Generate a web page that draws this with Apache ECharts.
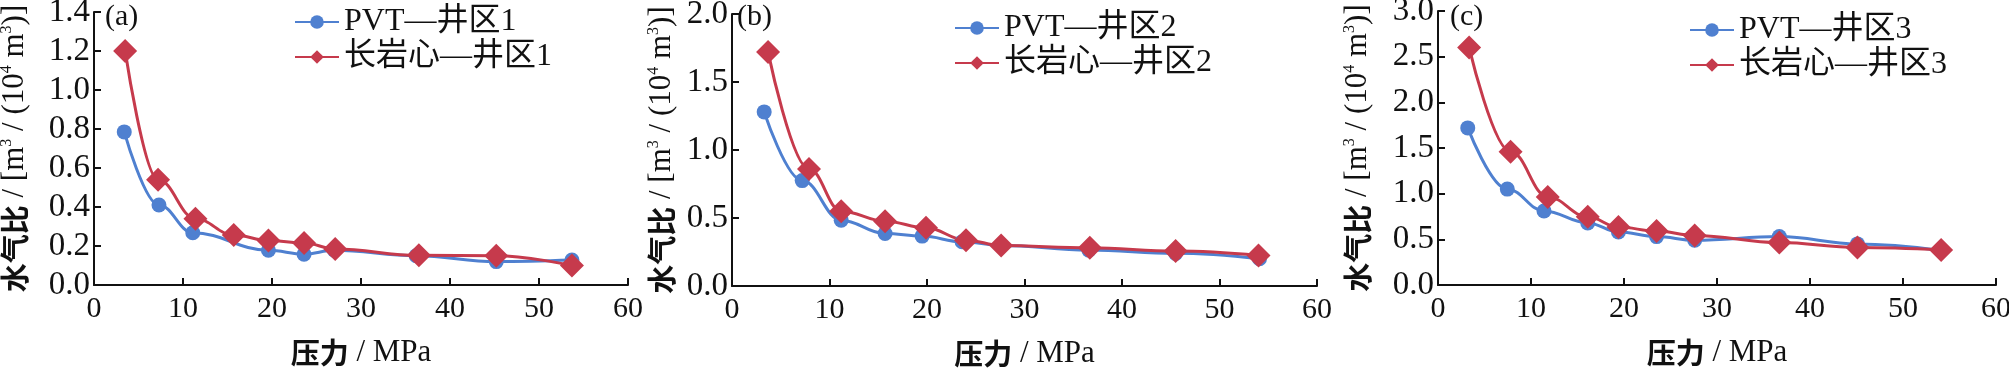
<!DOCTYPE html>
<html><head><meta charset="utf-8">
<script src="https://cdn.jsdelivr.net/npm/echarts@6/dist/echarts.min.js"></script>
<style>html,body{margin:0;padding:0;background:#fff}#c{width:2009px;height:368px}</style>
</head><body><div id="c"></div>
<script>
// Panel (a)
const pvtX1 = [3.4, 7.3, 11.1, 19.6, 23.6, 27.0, 36.2, 45.2, 53.7];
const pvtY1 = [0.785, 0.41, 0.268, 0.178, 0.158, 0.178, 0.15, 0.12, 0.128];
const coreX1 = [3.5, 7.2, 11.4, 15.7, 19.6, 23.6, 27.1, 36.5, 45.2, 53.7];
const coreY1 = [1.2, 0.54, 0.34, 0.256, 0.228, 0.215, 0.185, 0.152, 0.15, 0.1];
// Panel (b)
const pvtX2 = [3.3, 7.2, 11.2, 15.7, 19.5, 23.6, 27.6, 36.6, 45.5, 54.1];
const pvtY2 = [1.28, 0.775, 0.484, 0.386, 0.367, 0.325, 0.298, 0.264, 0.24, 0.2];
const coreX2 = [3.7, 7.9, 11.2, 15.7, 19.9, 24.0, 27.6, 36.7, 45.5, 54.0];
const coreY2 = [1.72, 0.86, 0.55, 0.477, 0.428, 0.337, 0.298, 0.281, 0.257, 0.225];
// Panel (c)
const pvtX3 = [3.2, 7.45, 11.4, 16.1, 19.4, 23.5, 27.6, 36.7, 45.1, 54.1];
const pvtY3 = [1.72, 1.05, 0.81, 0.68, 0.58, 0.53, 0.49, 0.53, 0.45, 0.38];
const coreX3 = [3.35, 7.8, 11.8, 16.1, 19.4, 23.5, 27.6, 36.7, 45.1, 54.1];
const coreY3 = [2.6, 1.46, 0.964, 0.746, 0.634, 0.59, 0.543, 0.464, 0.41, 0.384];

const seriesNames = [
  ['PVT—井区1', '长岩心—井区1'],
  ['PVT—井区2', '长岩心—井区2'],
  ['PVT—井区3', '长岩心—井区3']
];
const panelLabels = ['(a)', '(b)', '(c)'];
const yMax = [1.4, 2.0, 3.0];
const yInterval = [0.2, 0.5, 0.5];

const BLUE = '#4f80d0', RED = '#c63a4c';
const SERIF = '"Liberation Serif", "Times New Roman", "Noto Sans CJK SC", serif';

const grids = [
  {left: 94, width: 534, top: 12, height: 273, outerBoundsMode: 'none'},
  {left: 732, width: 585, top: 14, height: 272, outerBoundsMode: 'none'},
  {left: 1438, width: 558, top: 11, height: 274, outerBoundsMode: 'none'}
];
const yNameGap = [64, 55, 65];
const legendPos = [
  {left: 289, top: 1},
  {left: 949, top: 7},
  {left: 1684, top: 9}
];
const labelPos = [[105, 2], [737, 2], [1450, 2]];

const pvt = [[pvtX1, pvtY1], [pvtX2, pvtY2], [pvtX3, pvtY3]];
const core = [[coreX1, coreY1], [coreX2, coreY2], [coreX3, coreY3]];
const zip = (xs, ys) => xs.map((x, i) => [x, ys[i]]);

const axisLine = {show: true, lineStyle: {color: '#111', width: 2}};
const yName = '{cn|水气比} / [m{sup|3} / (10{sup|4} m{sup|3})]';

const option = {
  animation: false,
  backgroundColor: '#fff',
  grid: grids,
  xAxis: grids.map((g, i) => ({
    gridIndex: i, type: 'value', min: 0, max: 60, interval: 10,
    axisLine, axisTick: {inside: true, length: 7, lineStyle: {color: '#111', width: 2}},
    splitLine: {show: false},
    axisLabel: {fontSize: 30, fontFamily: SERIF, color: '#111', margin: 9},
    name: '{cn|压力} / MPa', nameLocation: 'middle', nameGap: 52,
    nameTextStyle: {fontSize: 31, fontFamily: SERIF, color: '#111',
      rich: {cn: {fontSize: 29, fontWeight: 'bold', fontFamily: '"Noto Sans CJK SC"', color: '#111'}}}
  })),
  yAxis: grids.map((g, i) => ({
    gridIndex: i, type: 'value', min: 0, max: yMax[i], interval: yInterval[i],
    axisLine, axisTick: {inside: true, length: 7, lineStyle: {color: '#111', width: 2}},
    splitLine: {show: false},
    axisLabel: {fontSize: 33, fontFamily: SERIF, color: '#111', margin: 4,
      formatter: v => v.toFixed(1)},
    name: yName, nameLocation: 'middle', nameGap: yNameGap[i],
    nameTextStyle: {fontSize: 31, fontFamily: SERIF, color: '#111',
      rich: {
        cn: {fontSize: 29, fontWeight: 'bold', fontFamily: '"Noto Sans CJK SC"', color: '#111'},
        sup: {fontSize: 16, fontFamily: SERIF, color: '#111', verticalAlign: 'top', lineHeight: 12}
      }}
  })),
  legend: grids.map((g, i) => ({
    data: seriesNames[i], orient: 'vertical', left: legendPos[i].left, top: legendPos[i].top,
    itemWidth: 44, itemHeight: 17, itemGap: 3,
    textStyle: {fontSize: 32, fontFamily: SERIF, color: '#111'}
  })),
  graphic: panelLabels.map((t, i) => ({
    type: 'text', left: labelPos[i][0], top: labelPos[i][1],
    style: {text: t, font: '30px ' + SERIF, fill: '#111'}
  })),
  series: []
};

for (let i = 0; i < 3; i++) {
  option.series.push({
    name: seriesNames[i][0], type: 'line', xAxisIndex: i, yAxisIndex: i,
    data: zip(pvt[i][0], pvt[i][1]), smooth: 0.4, smoothMonotone: 'x',
    symbol: 'circle', symbolSize: 15,
    lineStyle: {color: BLUE, width: 3}, itemStyle: {color: BLUE}
  });
  option.series.push({
    name: seriesNames[i][1], type: 'line', xAxisIndex: i, yAxisIndex: i,
    data: zip(core[i][0], core[i][1]), smooth: 0.4, smoothMonotone: 'x',
    symbol: 'diamond', symbolSize: 24,
    lineStyle: {color: RED, width: 3}, itemStyle: {color: RED}
  });
}

const chart = echarts.init(document.getElementById('c'), null, {renderer: 'canvas'});
chart.setOption(option);
</script>
</body></html>
